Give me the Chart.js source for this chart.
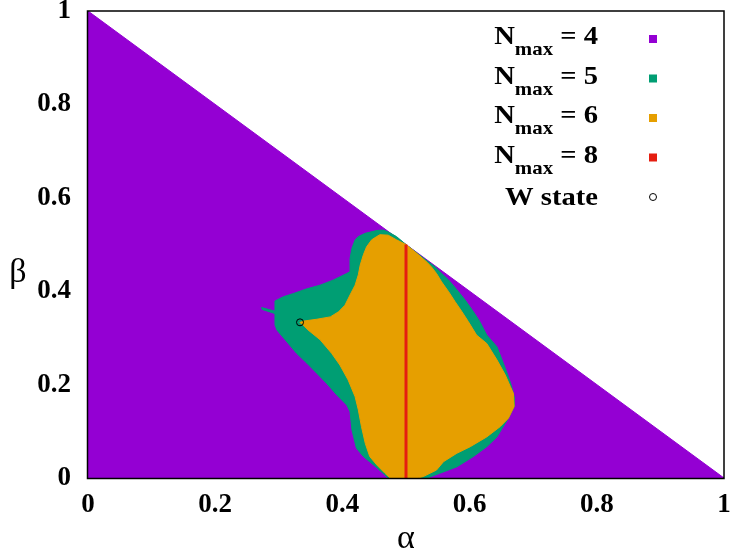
<!DOCTYPE html>
<html><head><meta charset="utf-8">
<script src="https://cdn.jsdelivr.net/npm/chart.js@4"></script>
<style>html,body{margin:0;padding:0;background:#fff}#wrap{width:732px;height:553px}</style>
</head><body><div id="wrap"><canvas id="c" width="732" height="553"></canvas></div>
<script>
const tickValues = [0, 0.2, 0.4, 0.6, 0.8, 1];
const tickLabels = ['0', '0.2', '0.4', '0.6', '0.8', '1'];
const legendNames = ['4', '5', '6', '8'];
const legendColors = ['#9400d3', '#009e73', '#e69f00', '#e51e10'];

const purpleAlpha = [0, 1, 0, 0];
const purpleBeta  = [0, 0, 1, 0];

const greenAlpha = [0.294,0.307,0.323,0.344,0.365,0.386,0.407,0.412,0.412,0.415,0.420,0.425,0.436,0.454,0.464,0.472,0.485,0.500,0.533,0.546,0.556,0.567,0.580,0.593,0.606,0.616,0.627,0.643,0.653,0.661,0.666,0.670,0.670,0.661,0.656,0.643,0.627,0.606,0.580,0.553,0.533,0.472,0.464,0.449,0.433,0.422,0.415,0.412,0.407,0.391,0.375,0.360,0.344,0.328,0.310,0.297,0.294,0.294,0.274,0.273,0.294,0.294];
const greenBeta  = [0.379,0.388,0.395,0.405,0.413,0.424,0.438,0.442,0.470,0.492,0.510,0.517,0.524,0.530,0.531,0.527,0.517,0.500,0.465,0.452,0.438,0.424,0.403,0.381,0.356,0.335,0.306,0.281,0.246,0.217,0.196,0.174,0.153,0.128,0.117,0.088,0.067,0.046,0.024,0.010,0,0,0.010,0.028,0.046,0.064,0.103,0.142,0.156,0.178,0.203,0.224,0.246,0.267,0.296,0.317,0.328,0.352,0.361,0.365,0.357,0.379];

const orangeAlpha = [0.333,0.339,0.360,0.381,0.394,0.404,0.412,0.420,0.425,0.428,0.433,0.438,0.446,0.454,0.459,0.472,0.485,0.500,0.517,0.533,0.540,0.548,0.556,0.567,0.577,0.588,0.598,0.611,0.627,0.643,0.656,0.664,0.669,0.670,0.661,0.648,0.627,0.601,0.580,0.559,0.548,0.527,0.519,0.475,0.467,0.454,0.443,0.436,0.430,0.425,0.420,0.409,0.396,0.383,0.365,0.346,0.338,0.333];
const orangeBeta  = [0.333,0.336,0.340,0.345,0.356,0.370,0.392,0.413,0.435,0.456,0.478,0.495,0.510,0.517,0.521,0.520,0.510,0.500,0.481,0.462,0.452,0.438,0.420,0.399,0.378,0.356,0.335,0.306,0.288,0.253,0.221,0.196,0.181,0.153,0.128,0.110,0.088,0.067,0.053,0.035,0.017,0.003,0,0,0.010,0.028,0.046,0.074,0.110,0.146,0.174,0.210,0.242,0.267,0.296,0.317,0.328,0.333];

const redAlpha = [0.5, 0.5];
const redBeta  = [0, 0.5];

const wAlpha = [1/3];
const wBeta  = [1/3];

const pts = (a, b) => a.map((v, i) => ({x: v, y: b[i]}));

const FONT = '"Liberation Serif", "Times New Roman", serif';

function polygon(label, a, b, color, order) {
  return {
    label, data: pts(a, b), showLine: true, fill: 'shape',
    backgroundColor: color, borderColor: color, borderWidth: 1,
    pointRadius: 0, pointHoverRadius: 0, tension: 0, order
  };
}

const decor = {
  id: 'decor',
  afterDatasetsDraw(chart) {
    const {ctx, chartArea: ca} = chart;
    ctx.save();
    ctx.strokeStyle = '#000';
    ctx.lineWidth = 1.5;
    ctx.strokeRect(ca.left - 0.5, ca.top, ca.right - ca.left + 0.5, ca.bottom - ca.top + 0.5);
    ctx.restore();
  },
  afterDraw(chart) {
    const ctx = chart.ctx;
    const ca = chart.chartArea;
    ctx.save();
    ctx.fillStyle = '#000';
    // axis titles
    ctx.font = '34px ' + FONT;
    ctx.textAlign = 'center';
    ctx.textBaseline = 'alphabetic';
    ctx.fillText('α', (ca.left + ca.right) / 2, 548);
    ctx.fillText('β', 18, 282);
    // legend
    const rightX = 598;
    const sx = 1.1;
    legendNames.forEach((n, i) => {
      const base = 44 + i * 39.5;
      ctx.save();
      ctx.translate(rightX, 0);
      ctx.scale(sx, 1);
      ctx.textAlign = 'left';
      ctx.font = 'bold 26px ' + FONT;
      const t3 = ' = ' + n;
      const w3 = ctx.measureText(t3).width;
      const w1 = ctx.measureText('N').width;
      ctx.font = 'bold 19px ' + FONT;
      const w2 = ctx.measureText('max').width;
      let x = -w3;
      ctx.font = 'bold 26px ' + FONT;
      ctx.fillText(t3, x, base);
      x -= w2;
      ctx.font = 'bold 19px ' + FONT;
      ctx.fillText('max', x, base + 11);
      x -= w1;
      ctx.font = 'bold 26px ' + FONT;
      ctx.fillText('N', x, base);
      ctx.restore();
      ctx.fillStyle = legendColors[i];
      ctx.fillRect(649, base - 9, 8, 8);
      ctx.fillStyle = '#000';
    });
    ctx.save();
    ctx.translate(rightX, 0);
    ctx.scale(sx, 1);
    ctx.textAlign = 'right';
    ctx.font = 'bold 26px ' + FONT;
    ctx.fillText('W state', 0, 205);
    ctx.restore();
    ctx.beginPath();
    ctx.arc(653, 197, 3.5, 0, Math.PI * 2);
    ctx.strokeStyle = '#000';
    ctx.lineWidth = 1;
    ctx.stroke();
    ctx.restore();
  }
};

function axisCommon(isX) {
  return {
    type: 'linear', min: 0, max: 1,
    afterBuildTicks: s => { s.ticks = tickValues.map(v => ({value: v})); },
    ticks: {
      callback: (v, i) => tickLabels[i],
      font: {family: FONT, size: 27, weight: 'bold'},
      color: '#000',
      padding: isX ? 11 : 17,
      maxRotation: 0, autoSkip: false
    },
    grid: {display: false, drawTicks: false},
    border: {display: false},
    afterFit: s => {
      if (isX) s.height = 75; else s.width = 88;
      s.paddingTop = 0; s.paddingBottom = 0; s.paddingLeft = 0; s.paddingRight = 0;
    }
  };
}

new Chart(document.getElementById('c'), {
  type: 'scatter',
  data: {
    datasets: [
      polygon('Nmax = 4', purpleAlpha, purpleBeta, legendColors[0], 5),
      polygon('Nmax = 5', greenAlpha, greenBeta, legendColors[1], 4),
      polygon('Nmax = 6', orangeAlpha, orangeBeta, legendColors[2], 3),
      {label: 'Nmax = 8', data: pts(redAlpha, redBeta), showLine: true, borderColor: legendColors[3],
       borderWidth: 3, pointRadius: 0, pointHoverRadius: 0, fill: false, order: 2},
      {label: 'W state', data: pts(wAlpha, wBeta), showLine: false, pointRadius: 3.5,
       pointBorderColor: '#000', pointBackgroundColor: 'rgba(0,0,0,0)', pointBorderWidth: 1, order: 1}
    ]
  },
  options: {
    responsive: false, animation: false, devicePixelRatio: 1,
    layout: {padding: {top: 11, right: 8, left: 0, bottom: 0}},
    plugins: {legend: {display: false}, tooltip: {enabled: false}},
    scales: {x: axisCommon(true), y: axisCommon(false)}
  },
  plugins: [decor]
});
</script></body></html>
